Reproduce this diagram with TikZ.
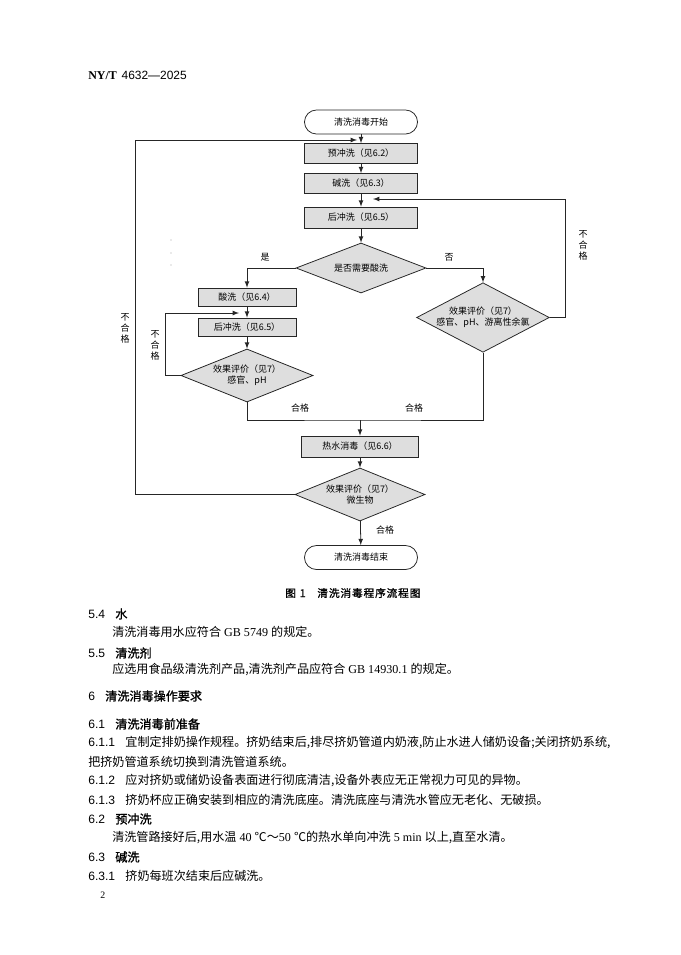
\documentclass[tikz,border=0pt]{standalone}
\usepackage{fontspec}
\setmainfont{Liberation Serif}
\setsansfont{Liberation Sans}
\newfontfamily\cjk{Noto Sans CJK SC}
\newfontfamily\cjkh[FakeBold=1.2]{Noto Sans CJK SC}
\usetikzlibrary{shapes.geometric}
\newcommand\flowfont{\cjk\fontsize{6.4}{7.8}\selectfont}
\newcommand\bodyfont{\cjk\fontsize{8.6}{10}\selectfont}
\newcommand\secno[1]{{\sffamily #1}\hspace{0.85em}}
\newcommand\sechd[2]{\secno{#1}{\cjkh #2}}
\newcommand\rmtxt[1]{{\rmfamily #1}}

\begin{document}
\begin{tikzpicture}[x=0.025cm,y=-0.025cm,>=latex,
    wire/.style={draw=black!85,line width=0.55pt},
    term/.style={wire,rounded corners=0.3cm,fill=white,minimum width=2.825cm,minimum height=0.6cm,font=\flowfont},
    proc/.style={wire,fill=black!13,minimum width=2.825cm,minimum height=0.5cm,inner sep=0pt,font=\flowfont},
    dec/.style={wire,diamond,fill=black!13,inner sep=0pt,align=center,font=\flowfont},
    lab/.style={font=\flowfont,inner sep=0pt,align=center},
    txt/.style={anchor=west,inner sep=0pt,font=\bodyfont}]
    \fill[white] (0,0) rectangle (681,955);
    \useasboundingbox (0,0) rectangle (681,955);
    \node[anchor=west,inner sep=0pt,font=\fontsize{8.5}{10}\selectfont] (hdr) at (88,75) {\textbf{NY/T}\hspace{0.4em}\sffamily 4632—2025};

    \node[term] (start) at (361,122) {清洗消毒开始};
    \node[proc] (pre) at (361,153.5) {预冲洗（见6.2）};
    \node[proc] (alk) at (361,183.5) {碱洗（见6.3）};
    \node[proc,minimum height=0.525cm] (post) at (361,217.5) {后冲洗（见6.5）};
    \node[dec,shape aspect=2.6,minimum width=3.25cm,minimum height=1.25cm] (acidq) at (361,268) {是否需要酸洗};
    \node[proc,minimum width=2.45cm,minimum height=0.45cm] (acid) at (247,297) {酸洗（见6.4）};
    \node[proc,minimum width=2.45cm,minimum height=0.45cm] (post2) at (247,327) {后冲洗（见6.5）};
    \node[dec,shape aspect=2.5,minimum width=3.3cm,minimum height=1.325cm] (eval1) at (247,375.5) {效果评价（见7）\\感官、pH};
    \node[dec,shape aspect=1.91,minimum width=3.3cm,minimum height=1.725cm] (eval2) at (483,317.5) {效果评价（见7）\\感官、pH、游离性余氯};
    \node[proc,minimum width=2.925cm,minimum height=0.525cm] (hot) at (360,446.5) {热水消毒（见6.6）};
    \node[dec,shape aspect=2.45,minimum width=3.25cm,minimum height=1.325cm] (eval3) at (360,494.5) {效果评价（见7）\\微生物};
    \node[term] (finish) at (361,557.5) {清洗消毒结束};

    \coordinate (merge) at (360,420);
    \coordinate (fbl) at (135,140);
    \coordinate (fb3) at (357,140);
    \coordinate (fb1l) at (165,313);
    \coordinate (fb1) at (239,313);
    \coordinate (fb2r) at (565,199);
    \coordinate (fb2) at (373,199);

    \draw[wire,->] (start) -- (pre);
    \draw[wire,->] (pre) -- (alk);
    \draw[wire,->] (alk) -- (post);
    \draw[wire,->] (post) -- (acidq);
    \draw[wire,->] (acidq.west) -| (acid);
    \draw[wire,->] (acidq.east) -| (eval2.north);
    \draw[wire,->] (acid) -- (post2);
    \draw[wire,->] (post2) -- (eval1);
    \draw[wire,->] (eval1.west) -| (fb1l) -- (fb1);
    \draw[wire,->] (eval2.east) -| (fb2r) -- (fb2);
    \draw[wire] (eval1.south) |- (merge) -| (eval2.south);
    \draw[wire,->] (merge) -- (hot);
    \draw[wire,->] (hot) -- (eval3);
    \draw[wire,->] (eval3) -- (finish);
    \draw[wire,->] (eval3.west) -| (fbl) -- (fb3);

    \node[lab] (yes) at (265,257) {是};
    \node[lab] (no) at (449,257) {否};
    \node[lab] (ok1) at (300,408) {合格};
    \node[lab] (ok2) at (414,408) {合格};
    \node[lab] (ok3) at (385,530) {合格};
    \node[lab] (bad1) at (155,345) {不\\合\\格};
    \node[lab] (bad2) at (583,245) {不\\合\\格};
    \node[lab] (bad3) at (125,328) {不\\合\\格};
    \foreach \y in {240,253,265} \fill[black!35] (171,\y) circle (0.4pt);

    \node[anchor=west,inner sep=0pt,font=\cjkh\fontsize{7.6}{9}\selectfont] (cap) at (285,593) {图\hspace{0.35em}1\hspace{1.1em}{\addfontfeature{LetterSpace=8}清洗消毒程序流程图}};

    \node[txt] (h54) at (88,614) {\sechd{5.4}{水}};
    \node[txt] (p54) at (112,632) {清洗消毒用水应符合\rmtxt{ GB 5749 }的规定。};
    \node[txt] (h55) at (88,653) {\sechd{5.5}{清洗剂}};
    \node[txt] (p55) at (112,670) {应选用食品级清洗剂产品,清洗剂产品应符合\rmtxt{ GB 14930.1 }的规定。};
    \node[txt] (h6) at (88,696) {\sechd{6}{清洗消毒操作要求}};
    \node[txt] (h61) at (88,724) {\sechd{6.1}{清洗消毒前准备}};
    \node[txt] (p611) at (88,743) {\secno{6.1.1}宜制定排奶操作规程。挤奶结束后,排尽挤奶管道内奶液,防止水进人储奶设备;关闭挤奶系统,};
    \node[txt] (p611b) at (88,762) {把挤奶管道系统切换到清洗管道系统。};
    \node[txt] (p612) at (88,781) {\secno{6.1.2}应对挤奶或储奶设备表面进行彻底清洁,设备外表应无正常视力可见的异物。};
    \node[txt] (p613) at (88,800) {\secno{6.1.3}挤奶杯应正确安装到相应的清洗底座。清洗底座与清洗水管应无老化、无破损。};
    \node[txt] (h62) at (88,819) {\sechd{6.2}{预冲洗}};
    \node[txt] (p62) at (112,838) {清洗管路接好后,用水温\rmtxt{ 40 }℃～\rmtxt{50 }℃的热水单向冲洗\rmtxt{ 5 min }以上,直至水清。};
    \node[txt] (h63) at (88,857) {\sechd{6.3}{碱洗}};
    \node[txt] (p631) at (88,876) {\secno{6.3.1}挤奶每班次结束后应碱洗。};
    \node[txt,font=\rmfamily\fontsize{7}{8}\selectfont] (pg) at (100,895) {2};
\end{tikzpicture}
\end{document}
